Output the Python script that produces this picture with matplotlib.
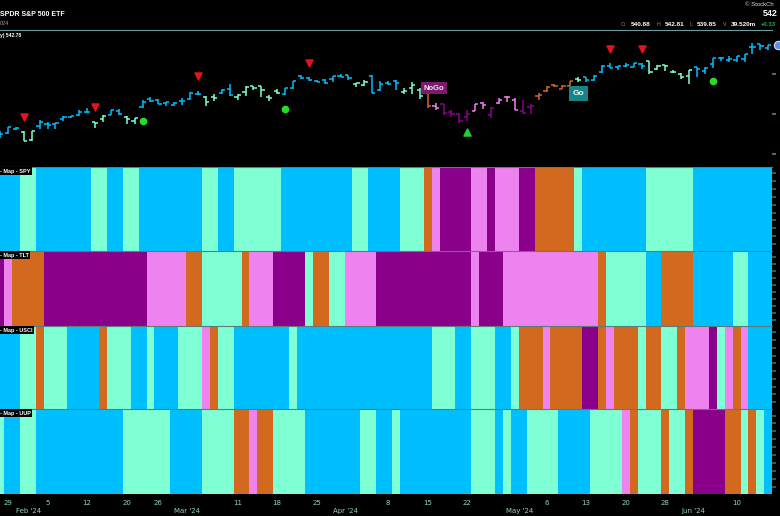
import numpy as np
import matplotlib.pyplot as plt
from matplotlib.transforms import blended_transform_factory

plt.rcParams['font.family'] = ['Liberation Sans', 'DejaVu Sans']

# trading days on the chart (2024)
trading_days = {
    1: [26, 29, 30, 31],
    2: [1, 2, 5, 6, 7, 8, 9, 12, 13, 14, 15, 16, 20, 21, 22, 23, 26, 27, 28, 29],
    3: [1, 4, 5, 6, 7, 8, 11, 12, 13, 14, 15, 18, 19, 20, 21, 22, 25, 26, 27, 28],
    4: [1, 2, 3, 4, 5, 8, 9, 10, 11, 12, 15, 16, 17, 18, 19, 22, 23, 24, 25, 26, 29, 30],
    5: [1, 2, 3, 6, 7, 8, 9, 10, 13, 14, 15, 16, 17, 20, 21, 22, 23, 24, 28, 29, 30, 31],
    6: [3, 4, 5, 6, 7, 10, 11, 12, 13, 14],
}
dates = [(m, d) for m in trading_days for d in trading_days[m]]

# SPY daily OHLC
opens = [
    485.2, 487.7, 490.6, 488.6,
    483.5, 492.0, 493.7, 493.5, 496.3, 498.1, 498.8, 501.2, 494.5, 496.8, 499.3, 501.7, 497.7, 495.4, 504.0, 509.3, 508.3, 506.7, 505.3, 508.1,
    508.9, 512.0, 510.2, 510.6, 513.1, 515.5, 510.5, 513.5, 517.1, 517.0, 510.2, 514.0, 512.2, 515.8, 523.4, 522.1, 520.1, 521.2, 521.7, 523.2,
    523.8, 518.2, 517.7, 523.5, 514.5, 519.2, 520.5, 513.5, 515.7, 514.4, 515.1, 504.9, 506.1, 501.0, 499.4, 497.8, 501.8, 506.6, 499.2, 506.4, 510.1, 508.6,
    501.4, 504.2, 511.2, 513.8, 517.6, 515.3, 517.4, 521.8, 522.6, 521.1, 525.8, 529.9, 528.8, 529.6, 529.3, 530.7, 532.9, 527.9, 530.3, 525.7, 524.5, 523.6,
    529.0, 526.5, 530.8, 534.9, 533.7, 533.2, 534.1, 541.6, 543.2, 540.9,
]
highs = [
    489.1, 491.3, 491.6, 489.1,
    489.3, 496.1, 494.4, 494.3, 498.5, 498.7, 502.0, 503.5, 495.0, 499.1, 502.2, 502.9, 498.4, 497.4, 508.5, 510.1, 508.8, 507.2, 506.9, 509.7,
    513.3, 514.2, 510.7, 512.1, 515.4, 518.2, 511.9, 517.4, 517.3, 517.1, 511.7, 515.5, 516.0, 520.6, 524.1, 522.6, 521.1, 521.6, 523.2, 524.6,
    524.0, 518.9, 520.9, 523.9, 520.4, 520.2, 520.8, 516.2, 519.5, 515.8, 515.3, 506.5, 506.2, 502.4, 500.5, 502.4, 506.0, 507.4, 504.3, 509.9, 510.8, 509.6,
    508.2, 505.9, 512.6, 516.9, 518.6, 517.7, 520.2, 522.6, 522.7, 523.8, 530.1, 531.5, 529.5, 531.6, 531.5, 531.3, 533.1, 530.3, 530.5, 527.3, 525.2, 527.5,
    529.3, 529.1, 534.7, 535.4, 536.0, 535.9, 537.0, 544.1, 543.3, 542.8,
]
lows = [
    484.9, 487.2, 489.5, 482.8,
    483.0, 490.4, 490.2, 490.2, 495.4, 497.2, 498.5, 500.2, 490.7, 494.4, 498.8, 498.8, 493.6, 493.6, 503.6, 507.1, 505.9, 504.9, 504.5, 505.4,
    508.6, 511.4, 504.9, 508.0, 512.4, 511.1, 508.5, 510.9, 514.5, 510.6, 508.1, 512.4, 511.6, 515.1, 521.8, 520.4, 519.4, 518.4, 519.5, 522.8,
    520.9, 516.5, 517.4, 512.8, 514.0, 518.0, 514.9, 512.1, 512.4, 509.1, 503.6, 502.2, 499.1, 497.9, 493.9, 495.4, 501.5, 503.1, 497.5, 505.7, 507.3, 501.9,
    499.9, 499.6, 508.6, 513.3, 516.4, 515.1, 516.7, 519.6, 519.7, 520.6, 525.4, 528.5, 527.3, 529.2, 529.1, 527.6, 524.7, 527.1, 526.8, 525.4, 521.3, 518.4,
    522.6, 524.9, 528.7, 532.7, 532.5, 532.4, 532.1, 537.0, 539.6, 539.9,
]
closes = [
    487.4, 491.3, 490.9, 482.9,
    489.2, 494.4, 492.6, 494.0, 498.1, 498.3, 501.2, 501.0, 494.1, 498.6, 502.0, 499.5, 496.8, 497.2, 507.5, 507.9, 506.0, 506.9, 506.3, 508.1,
    512.9, 512.3, 507.2, 509.8, 514.8, 511.7, 511.3, 516.8, 516.0, 515.0, 509.8, 512.9, 515.7, 520.5, 522.2, 521.2, 519.8, 518.8, 523.2, 523.1,
    522.2, 518.8, 519.4, 513.1, 518.4, 518.7, 519.3, 514.1, 518.0, 510.9, 504.5, 503.5, 500.6, 499.5, 495.2, 499.7, 505.7, 505.4, 503.5, 508.3, 510.1, 502.0,
    500.4, 505.0, 511.3, 516.8, 517.1, 517.2, 520.2, 520.8, 520.9, 523.3, 529.8, 528.7, 529.5, 530.1, 531.4, 529.8, 526.0, 529.4, 529.8, 526.1, 522.6, 527.4,
    527.8, 528.4, 534.7, 534.7, 534.0, 535.7, 537.0, 541.4, 542.5, 542.8,
]

# GoNoGo heat map states per day: B strong go, A weak go, O weak nogo, V nogo, P strong nogo
spy_map = ("BBB" "AA" "BBBBBBB" "AA" "BB" "AA" "BBBBBBBB" "AA" "BB" "AAAAAA"
           "BBBBBBBBB" "AA" "BBBB" "AAA" "O" "V" "PPPP" "VV" "P" "VVV" "PP"
           "OOOOO" "A" "BBBBBBBB" "AAAAAA" "BBBBBBBBBB")
tlt_map = ("P" "V" "OOOO" "PPPPPPPPPPPPP" "VVVVV" "OO" "AAAAA" "O" "VVV" "PPPP" "A" "OO" "AA" "VVVV"
           "PPPPPPPPPPPP" "V" "PPP" "VVVVVVVVVVVV" "O" "AAAAA" "BB" "OOOO" "BBBBB" "AA" "BBB")
usci_map = ("BBB" "AA" "O" "AAA" "BBBB" "O" "AAA" "BB" "A" "BBB" "AAA" "V" "O" "AA" "BBBBBBB" "A"
            "BBBBBBBBBBBBBBBBB" "AAA" "BB" "AAA" "BB" "A" "OOO" "V" "OOOO" "PP" "O" "V" "OOO" "A"
            "OO" "AA" "O" "VVV" "P" "A" "V" "O" "V" "BBB")
uup_map = ("A" "BB" "AA" "BBBBBBBBBBB" "AAAAAA" "BBBB" "AAAA" "OO" "V" "OO" "AAAA" "BBBBBBB" "AA" "BB" "A"
           "BBBBBBBBB" "AAA" "B" "A" "BB" "AAAA" "BBBB" "AAAA" "V" "O" "AAA" "O" "AA" "O" "PPPP" "OO" "A" "O" "A" "B")

sell_days = [3, 12, 25, 39, 77, 81]
buy_days = [18, 36, 90]
low_days = [59]
nogo_day = 54
go_day = 73

day_ticks = [(1, 29), (2, 5), (2, 12), (2, 20), (2, 26), (3, 11), (3, 18), (3, 25),
             (4, 8), (4, 15), (4, 22), (5, 6), (5, 13), (5, 20), (5, 28), (6, 10)]
month_ticks = [(2, "Feb '24"), (3, "Mar '24"), (4, "Apr '24"), (5, "May '24"), (6, "Jun '24")]

palette = {'B': '#00BFFF', 'A': '#7FFFD4', 'O': '#D2691E', 'V': '#EE82EE', 'P': '#8B008B'}

W, H = 780, 516
fig = plt.figure(figsize=(W / 100, H / 100), dpi=100, facecolor='black')


def panel(top, bottom):
    a = fig.add_axes([0, 1 - bottom / H, 772 / W, (bottom - top) / H])
    a.set_facecolor('black')
    a.set_xlim(0, 97.47)
    a.set_xticks([])
    for s in a.spines.values():
        s.set_visible(False)
    return a


def ftext(x, y, s, **kw):
    fig.text(x / W, 1 - y / H, s, va='center', **kw)


x = np.arange(len(dates))

# price panel
ax = panel(30, 166)
ax.set_ylim(467.2, 552.2)
ax.spines['top'].set_visible(True)
ax.spines['top'].set_color('#6d9c9c')
bar_cols = [palette[c] for c in spy_map]
ax.vlines(x, lows, highs, colors=bar_cols, lw=1.1)
ax.hlines(opens, x - 0.4, x, colors=bar_cols, lw=1.1)
ax.hlines(closes, x, x + 0.4, colors=bar_cols, lw=1.1)

ax.scatter(sell_days, [highs[i] + 9 for i in sell_days], marker='v', s=26, color='#e3141b', zorder=3)
ax.scatter(buy_days, [lows[i] - 8.5 for i in buy_days], marker='o', s=20, color='#22e022', zorder=3)
ax.scatter(low_days, [lows[i] - 7 for i in low_days], marker='^', s=26, color='#22d030', zorder=3)
ax.text(nogo_day + 0.8, highs[nogo_day] + 0.6, 'NoGo', ha='center', va='center', fontsize=5.5,
        fontweight='bold', color='#f4e0f0',
        bbox=dict(boxstyle='square,pad=0.3', facecolor='#7a1c6e', edgecolor='none'))
ax.text(go_day, lows[go_day] - 7, 'Go', ha='center', va='center', fontsize=6,
        fontweight='bold', color='#e8fbfb',
        bbox=dict(boxstyle='square,pad=0.45', facecolor='#178585', edgecolor='none'))
ax.plot(98.17, closes[-1], 'o', ms=6, color='#5d8fe8', mec='#cfe0ff', mew=0.8, clip_on=False)

ax.yaxis.tick_right()
ax.set_yticks([475, 500, 525])
ax.set_yticklabels([])
ax.tick_params(axis='y', colors='#4f8c8c', length=3, width=1.2)

# heat map panels
maps = [(spy_map, '- Map - SPY', 166.7, 250.7),
        (tlt_map, '- Map - TLT', 250.7, 325.7),
        (usci_map, '- Map - USCI', 325.7, 408.7),
        (uup_map, '- Map - UUP', 408.7, 494)]
for states, name, top, bottom in maps:
    m = panel(top, bottom)
    cols = [palette[c] for c in states]
    m.bar(x, 1, width=1.0, bottom=0, color=cols, linewidth=0, antialiased=False)
    m.set_ylim(0, 1)
    m.spines['top'].set_visible(True)
    m.spines['top'].set_color('#5c7c7c')
    m.spines['top'].set_linewidth(0.8)
    m.yaxis.tick_right()
    m.set_yticks(np.linspace(0.08, 0.92, 10))
    m.set_yticklabels([])
    m.tick_params(axis='y', colors='#2f6f6f', length=3, width=1.2)
    m.text(0.0, 0.975, name, transform=m.transAxes, ha='left', va='top', fontsize=4,
           fontweight='bold', color='white',
           bbox=dict(boxstyle='square,pad=0.25', facecolor='black', edgecolor='none'))
last = m

# date axis
tr = blended_transform_factory(last.transData, fig.transFigure)
for mo, d in day_ticks:
    last.text(dates.index((mo, d)), 1 - 503 / H, str(d), transform=tr, ha='center', va='center',
              fontsize=5, color='#8fd3cb', family=['Liberation Sans Narrow', 'DejaVu Sans'])
for mo, lab in month_ticks:
    first = dates.index((mo, trading_days[mo][0]))
    last.text(first - 0.4, 1 - 511 / H, lab, transform=tr, ha='center', va='center',
              fontsize=5, color='#8fd3cb', family=['Liberation Sans Narrow', 'DejaVu Sans'])

# header
ftext(0, 14.5, 'SPDR S&P 500 ETF', fontsize=5.0, fontweight='bold', color='white')
ftext(0, 23.5, '024', fontsize=4, color='#a0a0a0')
ftext(0, 35.5, 'y) 542.78', fontsize=3.6, fontweight='bold', color='white')
ftext(745, 5, '\u00a9 StockCh', fontsize=4.3, color='#dddddd')
ftext(763, 14, '542', fontsize=6.5, fontweight='bold', color='white')
for xp, s, c, fs, fw in [(621, 'O:', '#8a8a8a', 3.8, 'normal'), (631, '540.88', 'white', 4.6, 'bold'),
                         (657, 'H:', '#8a8a8a', 3.8, 'normal'), (665, '542.81', 'white', 4.6, 'bold'),
                         (690, 'L:', '#8a8a8a', 3.8, 'normal'), (697, '539.85', 'white', 4.6, 'bold'),
                         (723, 'V:', '#8a8a8a', 3.8, 'normal'), (731, '39.520m', 'white', 4.6, 'bold'),
                         (761, '+0.33', '#2fa84f', 4.2, 'bold')]:
    ftext(xp, 24.5, s, fontsize=fs, fontweight=fw, color=c)

fig.savefig('out.png', dpi=100, facecolor='black')
